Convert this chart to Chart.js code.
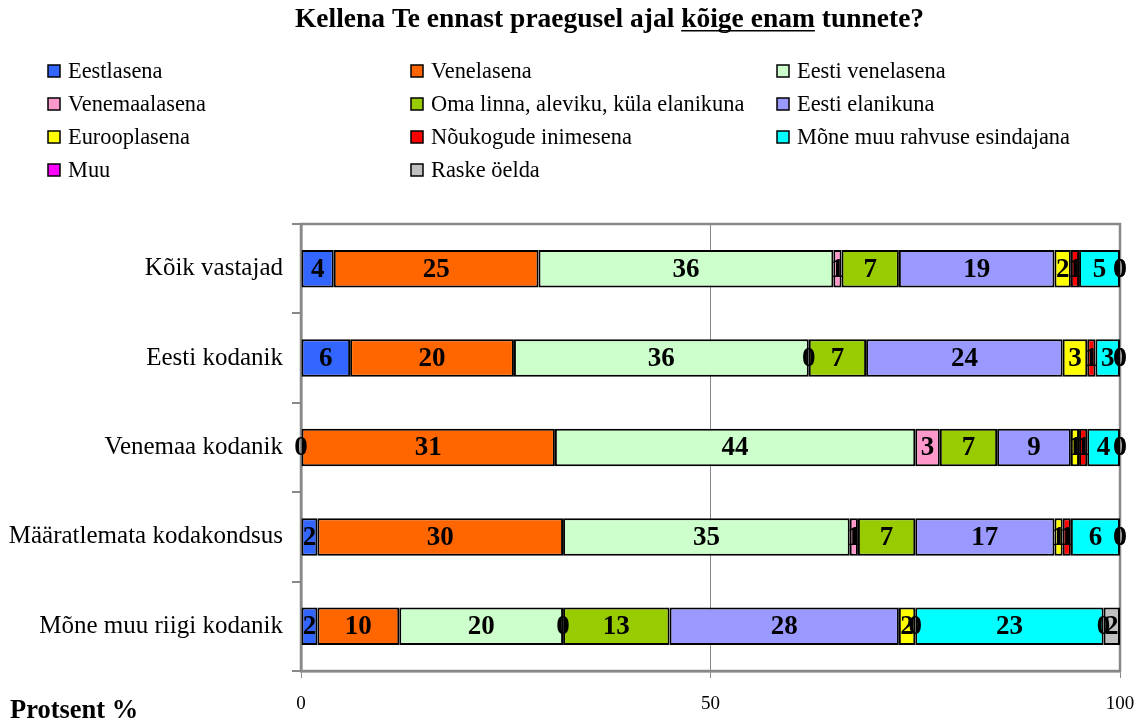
<!DOCTYPE html>
<html>
<head>
<meta charset="utf-8">
<script src="https://cdn.jsdelivr.net/npm/chart.js@4.4.1/dist/chart.umd.min.js"></script>
<style>
html,body{margin:0;padding:0;background:#fff;}
canvas{display:block;}
</style>
</head>
<body>
<canvas id="c" width="1141" height="726"></canvas>
<script>
const categories = ["Kõik vastajad", "Eesti kodanik", "Venemaa kodanik", "Määratlemata kodakondsus", "Mõne muu riigi kodanik"];
const seriesNames = ["Eestlasena", "Venelasena", "Eesti venelasena", "Venemaalasena", "Oma linna, aleviku, küla elanikuna", "Eesti elanikuna", "Eurooplasena", "Nõukogude inimesena", "Mõne muu rahvuse esindajana", "Muu", "Raske öelda"];
const seriesColors = ["#3366FF", "#FF6600", "#CCFFCC", "#FF99CC", "#99CC00", "#9999FF", "#FFFF00", "#FF0000", "#00FFFF", "#FF00FF", "#C0C0C0"];
const eestlasena      = [4, 6, 0, 2, 2];
const venelasena      = [25, 20, 31, 30, 10];
const eestiVenelasena = [36, 36, 44, 35, 20];
const venemaalasena   = [1, 0, 3, 1, 0];
const omaLinna        = [7, 7, 7, 7, 13];
const eestiElanikuna  = [19, 24, 9, 17, 28];
const eurooplasena    = [2, 3, 1, 1, 2];
const noukogude       = [1, 1, 1, 1, 0];
const moneMuuRahvuse  = [5, 3, 4, 6, 23];
const muu             = [0, 0, 0, 0, 0];
const raskeOelda      = [0, 0, 0, 0, 2];
const xTicks = [0, 50, 100];
const titleParts = ["Kellena Te ennast praegusel ajal ", "kõige enam", " tunnete?"];
const axisTitle = "Protsent %";

const seriesValues = [eestlasena, venelasena, eestiVenelasena, venemaalasena, omaLinna, eestiElanikuna, eurooplasena, noukogude, moneMuuRahvuse, muu, raskeOelda];
const SERIF = '"Liberation Serif", "Times New Roman", serif';

const datasets = seriesNames.map((n, i) => ({
  label: n,
  data: seriesValues[i],
  backgroundColor: seriesColors[i],
  borderColor: '#000',
  borderWidth: 2,
  borderSkipped: false,
  barPercentage: 0.84,
  categoryPercentage: 0.5
}));

const framePlugin = {
  id: 'frame',
  beforeDatasetsDraw(chart) {
    const a = chart.chartArea, ctx = chart.ctx;
    ctx.save();
    ctx.strokeStyle = '#888';
    ctx.lineWidth = 2.5;
    ctx.strokeRect(a.left, a.top, a.right - a.left, a.bottom - a.top);
    ctx.restore();
  }
};

const labelPlugin = {
  id: 'vlabels',
  afterDatasetsDraw(chart) {
    const ctx = chart.ctx;
    ctx.save();
    ctx.font = 'bold 27px ' + SERIF;
    ctx.fillStyle = '#000';
    ctx.textAlign = 'center';
    ctx.textBaseline = 'middle';
    chart.data.datasets.forEach((ds, di) => {
      const meta = chart.getDatasetMeta(di);
      meta.data.forEach((el, j) => {
        const v = ds.data[j];
        const cx = (el.x + el.base) / 2;
        ctx.fillText(String(v), cx, el.y + 1);
      });
    });
    ctx.restore();
  }
};

const textPlugin = {
  id: 'texts',
  afterDraw(chart) {
    const ctx = chart.ctx;
    ctx.save();
    // title
    ctx.font = 'bold 27.5px ' + SERIF;
    ctx.fillStyle = '#000';
    ctx.textBaseline = 'alphabetic';
    const widths = titleParts.map(t => ctx.measureText(t).width);
    const total = widths.reduce((a, b) => a + b, 0);
    let x = 609.5 - total / 2;
    const by = 27;
    titleParts.forEach((t, i) => {
      ctx.textAlign = 'left';
      ctx.fillText(t, x, by);
      if (i === 1) {
        ctx.fillRect(x, by + 3, widths[i], 1.5);
      }
      x += widths[i];
    });
    // legend
    ctx.font = '22.4px ' + SERIF;
    ctx.textBaseline = 'middle';
    ctx.textAlign = 'left';
    const colX = [48, 411, 777];
    chart.data.datasets.forEach((ds, i) => {
      const col = i % 3, row = Math.floor(i / 3);
      const bx = colX[col], cy = 71 + row * 33;
      ctx.fillStyle = ds.backgroundColor;
      ctx.fillRect(bx, cy - 6, 12, 12);
      ctx.strokeStyle = '#000';
      ctx.lineWidth = 1.5;
      ctx.strokeRect(bx, cy - 6, 12, 12);
      ctx.fillStyle = '#000';
      ctx.fillText(ds.label, bx + 20, cy + 1);
    });
    // axis title
    ctx.font = 'bold 26.5px ' + SERIF;
    ctx.fillText(axisTitle, 10, 711);
    ctx.restore();
  }
};

new Chart(document.getElementById('c'), {
  type: 'bar',
  data: { labels: categories, datasets },
  options: {
    indexAxis: 'y',
    responsive: false,
    animation: false,
    layout: { padding: { top: 224, right: 21, bottom: 0, left: 0 } },
    plugins: { legend: { display: false }, title: { display: false }, tooltip: { enabled: false } },
    scales: {
      x: {
        stacked: true,
        min: 0, max: 100,
        afterBuildTicks(scale) { scale.ticks = xTicks.map(v => ({ value: v })); },
        afterFit(scale) { scale.height = 55; scale.paddingRight = 0; scale.paddingLeft = 0; },
        ticks: { font: { family: SERIF, size: 19 }, color: '#000', padding: 15, maxRotation: 0 },
        grid: { color: '#888', lineWidth: 1, tickLength: 7, drawTicks: true },
        border: { color: '#888', width: 2.5 }
      },
      y: {
        stacked: true,
        afterFit(scale) { scale.width = 301; },
        ticks: { font: { family: SERIF, size: 25 }, color: '#000', padding: 9 },
        grid: { offset: true, drawOnChartArea: false, drawTicks: true, tickLength: 9, color: '#888', lineWidth: 2 },
        border: { color: '#888', width: 2.5 }
      }
    }
  },
  plugins: [framePlugin, labelPlugin, textPlugin]
});
</script>
</body>
</html>
